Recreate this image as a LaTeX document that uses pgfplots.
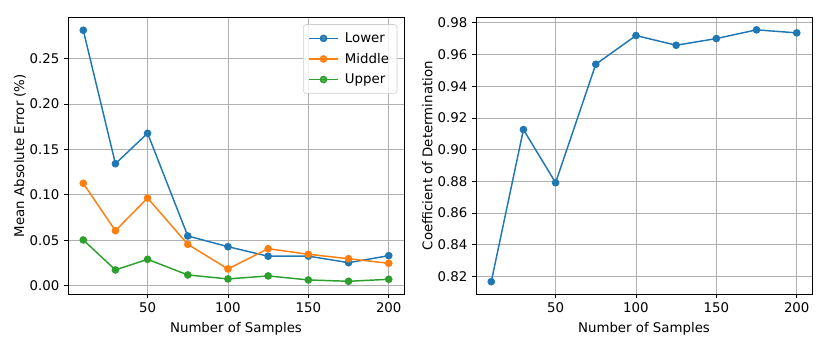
\documentclass[border=0pt]{standalone}
\usepackage{pgfplots}
\pgfplotsset{compat=1.18}
\usepackage{fontspec}
\setmainfont{DejaVu Sans}
\definecolor{c0}{HTML}{1F77B4}
\definecolor{c1}{HTML}{FF7F0E}
\definecolor{c2}{HTML}{2CA02C}
\definecolor{gridc}{HTML}{B0B0B0}
\pgfplotsset{
  mplstyle/.style={
    scale only axis, width=252pt, height=207.5pt,
    anchor=south west,
    xmin=0.5, xmax=209.5,
    xtick={50,100,150,200},
    grid=major,
    major grid style={color=gridc, line width=0.6pt},
    axis line style={line width=0.6pt},
    tick align=outside, tick pos=left,
    major tick length=3pt,
    tick style={black, line width=0.6pt},
    font=\fontsize{10}{12}\selectfont,
    tick label style={font=\fontsize{10}{12}\selectfont},
    label style={font=\fontsize{10}{12}\selectfont},
    /pgf/number format/assume math mode=true,
    xlabel={Number of Samples},
    every axis plot/.append style={line width=1.1pt, mark=*, mark size=2.3pt},
    legend image code/.code={\draw[mark repeat=2,mark phase=2] plot coordinates {(0cm,0cm)(0.37cm,0cm)(0.74cm,0cm)};},
  }
}
\begin{document}
\begin{tikzpicture}
\useasboundingbox (0,0) rectangle (622.5pt,259.5pt);
\begin{axis}[mplstyle, at={(51pt,39pt)},
  ymin=-0.0092, ymax=0.2955,
  ytick={0,0.05,0.1,0.15,0.2,0.25},
  yticklabel style={/pgf/number format/.cd, fixed, fixed zerofill, precision=2},
  ylabel={Mean Absolute Error (\%)},
  ylabel style={yshift=-4pt},
  legend style={at={(rel axis cs:0.98,0.975)}, anchor=north east, draw=gray!40, rounded corners=2pt,
    fill=white, fill opacity=0.8, text opacity=1, font=\fontsize{10}{12}\selectfont,
    row sep=2.5pt, column sep=3pt, inner xsep=4pt, inner ysep=4pt},
  legend cell align=left,
]
\addplot[c0, mark options={fill=c0}] coordinates
{(10,0.2813) (30,0.1343) (50,0.1678) (75,0.0547) (100,0.0429) (125,0.0324) (150,0.0325) (175,0.0253) (200,0.0330)};
\addlegendentry{Lower}
\addplot[c1, mark options={fill=c1}] coordinates
{(10,0.1127) (30,0.0605) (50,0.0965) (75,0.0455) (100,0.0184) (125,0.0407) (150,0.0345) (175,0.0297) (200,0.0246)};
\addlegendentry{Middle}
\addplot[c2, mark options={fill=c2}] coordinates
{(10,0.0503) (30,0.0173) (50,0.0290) (75,0.0118) (100,0.0074) (125,0.0107) (150,0.0063) (175,0.0048) (200,0.0070)};
\addlegendentry{Upper}
\end{axis}
\begin{axis}[mplstyle, at={(357pt,39pt)},
  ymin=0.8090, ymax=0.9835,
  ytick={0.82,0.84,0.86,0.88,0.90,0.92,0.94,0.96,0.98},
  yticklabel style={/pgf/number format/.cd, fixed, fixed zerofill, precision=2},
  ylabel={Coefficient of Determination},
  ylabel style={yshift=-3pt},
]
\addplot[c0, mark options={fill=c0}] coordinates
{(10,0.8168) (30,0.9127) (50,0.8792) (75,0.9539) (100,0.9720) (125,0.9659) (150,0.9701) (175,0.9756) (200,0.9737)};
\end{axis}
\end{tikzpicture}
\end{document}
